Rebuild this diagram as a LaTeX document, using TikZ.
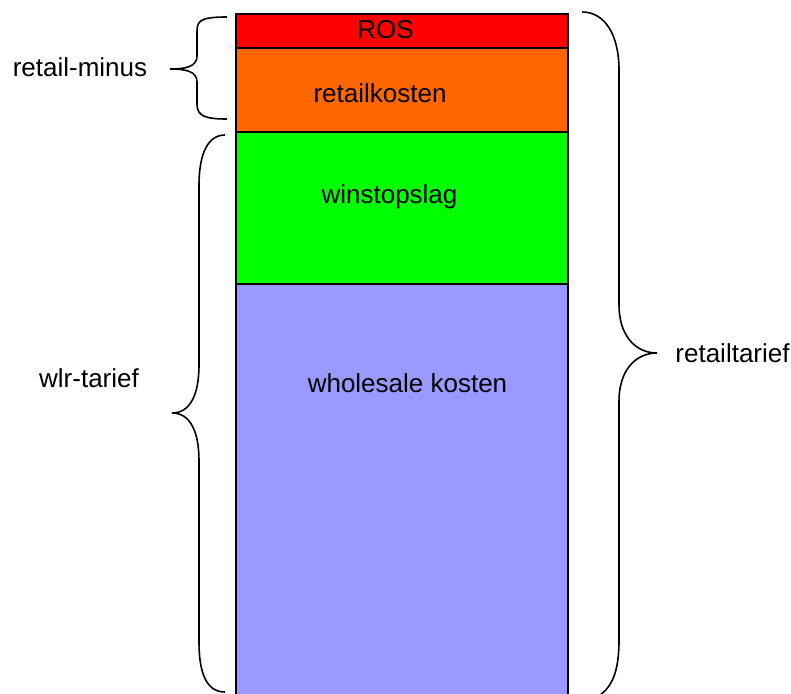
\documentclass[tikz,border=0pt]{standalone}
\usepackage{fontspec}
\setmainfont{Liberation Sans}
\definecolor{rosred}{HTML}{FF0000}
\definecolor{rkorange}{HTML}{FF6600}
\definecolor{wgreen}{HTML}{00FF00}
\definecolor{wblue}{HTML}{9999FF}
\begin{document}
\begin{tikzpicture}[x=1pt,y=-1pt,
  band/.style={draw=black,line width=2pt},
  lbl/.style={anchor=base,inner sep=0pt,font=\fontsize{26}{31}\selectfont},
  bracepath/.style={draw=black,line width=1.6pt}]
\useasboundingbox (0,0) rectangle (791,693);
% bands
\path[band,fill=wblue] (236,284) rectangle (568,710);
\path[band,fill=wgreen] (236,132) rectangle (568,284);
\path[band,fill=rkorange] (236,48) rectangle (568,132);
\path[band,fill=rosred] (236,14) rectangle (568,48);
% band labels
\node[lbl] (ros) at (385.5,39) {ROS};
\node[lbl] (rk) at (380,102) {retailkosten};
\node[lbl] (ws) at (389.5,203) {winstopslag};
\node[lbl] (wk) at (407.5,392) {wholesale kosten};
% side labels
\node[lbl] (rm) at (80,76) {retail-minus};
\node[lbl] (wlr) at (89,387) {wlr-tarief};
\node[lbl] (rt) at (732.5,362) {retailtarief};
% brace retail-minus (left)
\path[bracepath] (227,17) .. controls (197,17) and (197,22) .. (197,34)
  -- (197,56) .. controls (197,67) and (185,69) .. (170,69)
  .. controls (185,69) and (197,71) .. (197,82)
  -- (197,104) .. controls (197,116) and (205,119) .. (227,119);
% brace wlr-tarief (left)
\path[bracepath] (225,135) .. controls (205,135) and (199,160) .. (199,185)
  -- (199,365) .. controls (199,395) and (190,413) .. (172,413)
  .. controls (190,413) and (199,431) .. (199,461)
  -- (199,642) .. controls (199,670) and (205,692) .. (225,692);
% brace retailtarief (right)
\path[bracepath] (582,12) .. controls (605,12) and (619,35) .. (619,70)
  -- (619,305) .. controls (619,335) and (635,353) .. (657,353)
  .. controls (635,353) and (619,371) .. (619,401)
  -- (619,640) .. controls (619,672) and (612,688) .. (597,697);
\end{tikzpicture}
\end{document}
